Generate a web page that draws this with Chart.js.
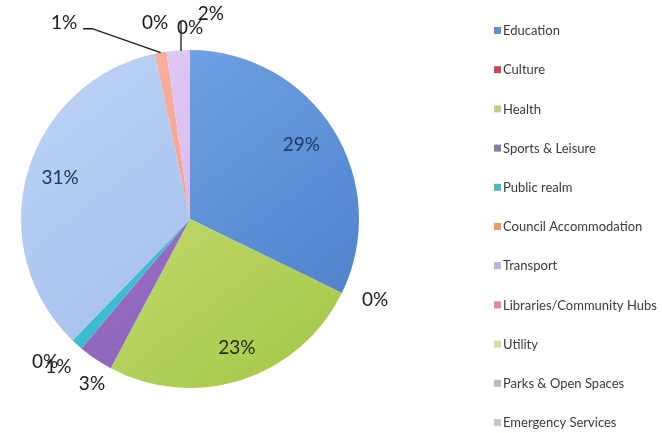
<!DOCTYPE html>
<html>
<head>
<meta charset="utf-8">
<title>Capital programme by service area</title>
<script src="https://cdn.jsdelivr.net/npm/chart.js@4.4.1/dist/chart.umd.min.js"></script>
<style>
  html, body { margin: 0; padding: 0; background: #ffffff; }
  #wrap { width: 662px; height: 433px; position: relative; }
</style>
</head>
<body>
<div id="wrap"><canvas id="pie" width="662" height="433"></canvas></div>
<script>
// Service areas, in drawing order (clockwise from 12 o'clock)
const categories = [
  'Education', 'Culture', 'Health', 'Sports & Leisure', 'Public realm',
  'Council Accommodation', 'Transport', 'Libraries/Community Hubs',
  'Utility', 'Parks & Open Spaces', 'Emergency Services'
];
// Share of spend per service area, in percent
const shares = [29, 0, 23, 3, 1, 0, 31, 1, 0, 2, 0];

// Slice colours: lighter tone (upper left) and deeper tone (lower right)
const lightTones = ['#76a8e8', '#d0605c', '#cee684', '#a87fd2', '#4ccadd', '#f9a860',
                    '#bcd3f5', '#f9b2a2', '#dbeaab', '#e2ccf5', '#b3dfeb'];
const darkTones  = ['#4a7ec8', '#b04440', '#a6c748', '#8458b4', '#2fb2c6', '#e88830',
                    '#9cb8e8', '#f09080', '#c0d890', '#ccaee8', '#90c8d8'];
const keyTones   = ['#6690cc', '#c84a5a', '#c2d08e', '#8a7aa8', '#4eb4c6', '#e99a6a',
                    '#b4b8d4', '#e6889c', '#d8dca8', '#bdb8cc', '#c4c8d2'];

// Label placement relative to each slice: angle shift (deg) from the slice middle,
// and distance from the centre as a fraction of the radius
const labelShift  = [-1.5, -2.4, -2, -3.3, -0.3, 1.4, 1.5, -22.7, -2.1, 9.8, 0];
const labelRadius = [0.79, 1.195, 0.81, 1.136, 1.17, 1.205, 0.806, 1.38, 1.18, 1.22, 1.13];
const labelInside = [true, false, true, false, false, false, true, false, false, false, false];
const insideInk   = ['#1d3a6c', null, '#1e2a10', null, null, null, '#1c3566', null, null, null, null];
// Leader line style per label: null, 'elbow' (from the right of the text) or 'drop'
const leaderKind  = [null, null, null, null, null, null, null, 'elbow', null, null, 'drop'];

const FONT_FAMILY = 'Lato, "Open Sans", sans-serif';

function sliceFill(ctx) {
  const chart = ctx.chart;
  const i = ctx.dataIndex;
  const area = chart.chartArea;
  if (!area || i === undefined) return keyTones[i] || '#999';
  const g = chart.ctx.createLinearGradient(area.left + 40, area.top, area.right - 40, area.bottom);
  g.addColorStop(0, lightTones[i]);
  g.addColorStop(1, darkTones[i]);
  return g;
}

const pieLabels = {
  id: 'pieLabels',
  afterDatasetsDraw(chart) {
    const c = chart.ctx;
    const meta = chart.getDatasetMeta(0);
    c.save();
    c.font = '19px ' + FONT_FAMILY;
    c.textAlign = 'center';
    c.textBaseline = 'middle';
    meta.data.forEach((arc, i) => {
      const p = arc.getProps(['x', 'y', 'startAngle', 'endAngle', 'outerRadius'], true);
      const mid = (p.startAngle + p.endAngle) / 2;
      const a = mid + labelShift[i] * Math.PI / 180;
      const r = p.outerRadius * labelRadius[i];
      const lx = p.x + r * Math.cos(a);
      const ly = p.y + r * Math.sin(a);
      const text = shares[i] + '%';
      // leader line to the slice edge
      const ex = p.x + p.outerRadius * Math.cos(mid);
      const ey = p.y + p.outerRadius * Math.sin(mid);
      if (leaderKind[i]) {
        c.beginPath();
        c.strokeStyle = '#1a1a1a';
        c.lineWidth = 1.3;
        if (leaderKind[i] === 'elbow') {
          const w = c.measureText(text).width;
          const sx = lx + w / 2 + 6;
          const sy = ly + 6;
          c.moveTo(sx, sy);
          c.lineTo(sx + 9, sy);
          c.lineTo(ex, ey);
        } else {
          c.moveTo(lx - 9, ly - 7);
          c.lineTo(lx - 9, ey + 1);
        }
        c.stroke();
      }
      c.fillStyle = labelInside[i] ? insideInk[i] : '#1a1a1a';
      c.fillText(text, lx, ly);
    });
    c.restore();
  }
};

const sideKey = {
  id: 'sideKey',
  afterDraw(chart) {
    const c = chart.ctx;
    c.save();
    c.font = '13px ' + FONT_FAMILY;
    c.textAlign = 'left';
    c.textBaseline = 'middle';
    const top = 31, step = 39.2, boxX = 494, textX = 503;
    chart.data.labels.forEach((name, i) => {
      const y = top + i * step;
      c.fillStyle = keyTones[i];
      c.fillRect(boxX, y - 4, 7, 7);
      c.fillStyle = '#3a3a3a';
      c.fillText(name, textX, y);
    });
    c.restore();
  }
};

new Chart(document.getElementById('pie'), {
  type: 'pie',
  data: {
    labels: categories,
    datasets: [{
      data: shares,
      backgroundColor: sliceFill,
      borderWidth: 0,
      hoverOffset: 0
    }]
  },
  options: {
    responsive: false,
    animation: false,
    devicePixelRatio: 1,
    layout: { padding: { left: 21, top: 50, right: 303, bottom: 45 } },
    plugins: {
      legend: { display: false },
      tooltip: { enabled: false },
      title: { display: false }
    },
    events: []
  },
  plugins: [pieLabels, sideKey]
});
</script>
</body>
</html>
